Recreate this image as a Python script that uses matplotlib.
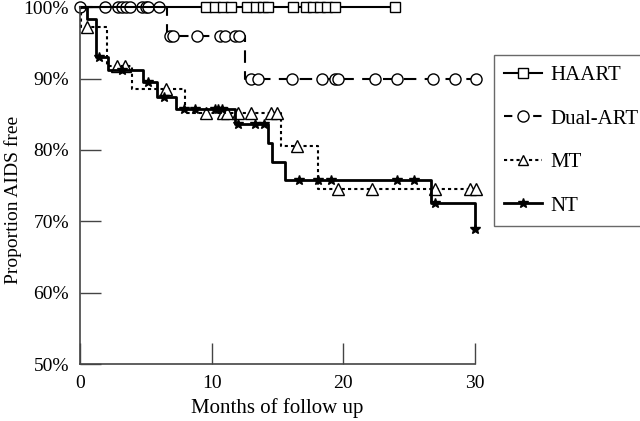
import numpy as np
import matplotlib.pyplot as plt

plt.rcParams['font.family'] = ['Liberation Serif', 'DejaVu Serif']

# Kaplan-Meier curves: step times and proportion free after each step
haart_t = [0, 23.9]
haart_s = [100, 100]
haart_cens = [9.6, 10.25, 10.9, 11.5, 12.7, 13.4, 13.9, 14.3,
              16.2, 17.2, 17.7, 18.2, 18.8, 19.4, 23.9]

dual_t = [0, 6.6, 12.5, 30.1]
dual_s = [100, 95.9, 89.9, 89.9]
dual_cens = [0, 1.9, 2.9, 3.2, 3.5, 3.8, 4.7, 5.0, 5.2, 6.0, 6.8, 7.1,
             8.9, 10.6, 11.0, 11.8, 12.1, 13.0, 13.5, 16.1, 18.4, 19.4,
             19.6, 22.4, 24.1, 26.8, 28.5, 30.1]

mt_t = [0, 0.1, 2.05, 3.95, 8.0, 15.3, 18.1, 30.1]
mt_s = [100, 97.2, 91.7, 88.5, 85.2, 80.5, 74.6, 74.6]
mt_cens = [0.5, 2.8, 3.4, 6.5, 9.6, 10.9, 11.2, 12.0, 13.0, 14.5, 15.0,
           16.5, 19.6, 22.2, 27.0, 29.6, 30.1]

nt_t = [0, 0.5, 1.2, 2.1, 4.8, 5.85, 7.3, 11.8, 14.3, 14.6, 15.6, 26.7, 30.0]
nt_s = [100, 98.4, 93.0, 91.2, 89.5, 87.4, 85.7, 83.6, 81.0, 78.3, 75.8, 72.6, 69.0]
nt_cens = [1.45, 3.2, 5.2, 6.4, 7.9, 8.7, 10.25, 10.5, 10.8, 12.0, 13.3,
           14.0, 16.6, 18.1, 19.1, 24.1, 25.4, 27.0, 30.0]


def surv_at(t, s, x):
    idx = np.searchsorted(t, x, side='right') - 1
    return np.asarray(s)[idx]


fig = plt.figure(figsize=(6.4, 4.21), dpi=100)
ax = fig.add_axes([0.125, 0.135, 0.617, 0.848])

ax.step(dual_t, dual_s, where='post', color='black', lw=1.5,
        ls=(0, (6, 4)), clip_on=False)
ax.plot(dual_cens, surv_at(dual_t, dual_s, dual_cens), 'o', ms=8,
        mfc='white', mec='black', mew=1, clip_on=False)

ax.step(haart_t, haart_s, where='post', color='black', lw=1.5, clip_on=False)
ax.plot(haart_cens, surv_at(haart_t, haart_s, haart_cens), 's', ms=7,
        mfc='white', mec='black', mew=1, clip_on=False)

ax.step(mt_t, mt_s, where='post', color='black', lw=1.5,
        ls=(0, (1.5, 1.5)), clip_on=False)
ax.plot(mt_cens, surv_at(mt_t, mt_s, mt_cens), '^', ms=8,
        mfc='white', mec='black', mew=1, clip_on=False)

ax.step(nt_t, nt_s, where='post', color='black', lw=2, clip_on=False)
ax.plot(nt_cens, surv_at(nt_t, nt_s, nt_cens), '*', ms=7,
        color='black', clip_on=False)

ax.set_xlim(0, 30)
ax.set_ylim(50, 100)
ax.set_xticks([0, 10, 20, 30])
ax.set_yticks([50, 60, 70, 80, 90, 100])
ax.set_yticklabels(['%d%%' % v for v in [50, 60, 70, 80, 90, 100]])
for sp in ['top', 'right']:
    ax.spines[sp].set_visible(False)
for sp in ['left', 'bottom']:
    ax.spines[sp].set_color('#444444')
    ax.spines[sp].set_linewidth(1.2)
ax.tick_params(direction='in', length=15, width=1, color='#444444',
               labelsize=14, pad=8)
ax.set_xlabel('Months of follow up', fontsize=15, labelpad=4)
ax.set_ylabel('Proportion AIDS free', fontsize=14)
ax.yaxis.set_label_coords(-0.148, 0.46)

handles = [
    plt.Line2D([], [], color='black', lw=1.5, marker='s', ms=7, mfc='white'),
    plt.Line2D([], [], color='black', lw=1.5, ls=(0, (4, 3)), marker='o',
               ms=8, mfc='white'),
    plt.Line2D([], [], color='black', lw=1.5, ls=(0, (1.5, 1.5)), marker='^',
               ms=7, mfc='white'),
    plt.Line2D([], [], color='black', lw=2, marker='*', ms=7),
]
fig.legend(handles, ['HAART', 'Dual-ART', 'MT', 'NT'], loc='upper left',
           bbox_to_anchor=(494 / 640, 1 - 55 / 421), fontsize=15,
           frameon=True, fancybox=False, edgecolor='#444444',
           labelspacing=1.15, handlelength=1.8, handletextpad=0.4,
           borderpad=0.5, borderaxespad=0)

fig.savefig('out.png', dpi=100)
